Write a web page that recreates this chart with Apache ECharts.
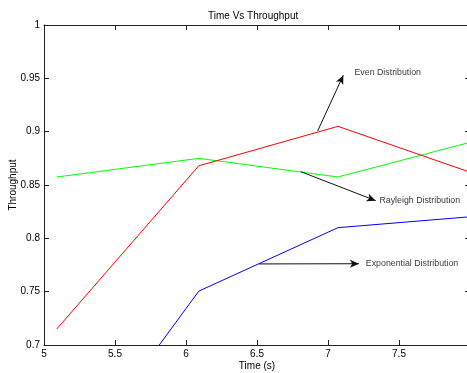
<!DOCTYPE html>
<html>
<head>
<meta charset="utf-8">
<script src="https://cdn.jsdelivr.net/npm/echarts@6/dist/echarts.min.js"></script>
<style>
html,body{margin:0;padding:0;background:#fff;}
#chart{width:467px;height:373px;}
</style>
</head>
<body>
<div id="chart"></div>
<script>
// ---- data ----
const timeValues = [5.09, 6.09, 7.07, 8.0];
const evenValues = [0.715, 0.868, 0.905, 0.862];
const rayleighValues = [0.8575, 0.875, 0.8575, 0.890];
const exponentialValues = [0.569, 0.7505, 0.810, 0.8202];
const xTicks = [5, 5.5, 6, 6.5, 7, 7.5, 8];
const yTicks = [0.7, 0.75, 0.8, 0.85, 0.9, 0.95, 1];
const annotationLabels = ['Even Distribution', 'Rayleigh Distribution', 'Exponential Distribution'];
// annotation arrows (tail -> head) and text anchors, in data units
const arrowTails = [[6.927, 0.9006], [6.808, 0.8625], [6.514, 0.776]];
const arrowHeads = [[7.108, 0.953], [7.336, 0.8353], [7.218, 0.7762]];
const textAnchors = [[7.183, 0.955], [7.359, 0.8353], [7.263, 0.7762]];

const FONT = 'Liberation Sans, Arial, sans-serif';
const AX = '#222';
const pair = (xs, ys) => xs.map((x, i) => [x, ys[i]]);

const chart = echarts.init(document.getElementById('chart'), null, {renderer: 'canvas'});
const xBase = {
  type: 'value', min: xTicks[0], max: xTicks[xTicks.length - 1], interval: 0.5,
  splitLine: {show: false},
  axisLine: {show: true, onZero: false, lineStyle: {color: AX, width: 1}},
  axisTick: {show: true, inside: true, length: 5, lineStyle: {color: AX}},
};
const yBase = {
  type: 'value', min: yTicks[0], max: yTicks[yTicks.length - 1], interval: 0.05,
  splitLine: {show: false},
  axisLine: {show: true, onZero: false, lineStyle: {color: AX, width: 1}},
  axisTick: {show: true, inside: true, length: 5, lineStyle: {color: AX}},
};
chart.setOption({
  animation: false,
  backgroundColor: '#fff',
  title: {
    text: 'Time Vs Throughput', left: 203, top: 6,
    textStyle: {fontFamily: FONT, fontSize: 10, fontWeight: 'normal', color: '#000'}
  },
  grid: {left: 44, top: 25, width: 426, height: 320, containLabel: false, outerBoundsMode: 'none'},
  xAxis: [
    Object.assign({}, xBase, {
      position: 'bottom',
      name: 'Time (s)', nameLocation: 'middle', nameGap: 16, nameMoveOverlap: false,
      nameTextStyle: {fontFamily: FONT, fontSize: 10, color: '#000'},
      axisLabel: {show: true, margin: 4, showMaxLabel: false, fontFamily: FONT, fontSize: 10, color: '#000',
        formatter: v => String(+v.toFixed(2))}
    }),
    Object.assign({}, xBase, {position: 'top', axisLabel: {show: false}})
  ],
  yAxis: [
    Object.assign({}, yBase, {
      position: 'left',
      name: 'Throughput', nameLocation: 'middle', nameGap: 26, nameMoveOverlap: false,
      nameTextStyle: {fontFamily: FONT, fontSize: 10, color: '#000'},
      axisLabel: {show: true, margin: 4, fontFamily: FONT, fontSize: 10, color: '#000',
        formatter: v => String(+v.toFixed(2))}
    }),
    Object.assign({}, yBase, {position: 'right', axisLabel: {show: false}})
  ],
  series: [
    {type: 'line', name: 'Even', data: pair(timeValues, evenValues), symbol: 'none',
      lineStyle: {color: '#ff0000', width: 1}, itemStyle: {color: '#ff0000'}, z: 3},
    {type: 'line', name: 'Rayleigh', data: pair(timeValues, rayleighValues), symbol: 'none',
      lineStyle: {color: '#00ff00', width: 1}, itemStyle: {color: '#00ff00'}, z: 2},
    {type: 'line', name: 'Exponential', data: pair(timeValues, exponentialValues), symbol: 'none',
      lineStyle: {color: '#0000ff', width: 1}, itemStyle: {color: '#0000ff'}, z: 2},
    {type: 'line', name: 'arrows', data: [], z: 5, silent: true,
      markLine: {
        silent: true, animation: false,
        symbol: ['none', 'arrow'], symbolSize: [6, 9],
        label: {show: false},
        lineStyle: {color: '#111', width: 1, type: 'solid'},
        emphasis: {disabled: true},
        data: arrowTails.map((t, i) => [{coord: t}, {coord: arrowHeads[i]}])
      }},
    {type: 'scatter', name: 'labels', silent: true, z: 6,
      symbolSize: 1, itemStyle: {color: 'rgba(255,255,255,0)'},
      data: textAnchors.map((p, i) => ({value: p, name: annotationLabels[i]})),
      label: {show: true, position: 'right', distance: 0, formatter: p => p.name,
        fontFamily: FONT, fontSize: 8.8, color: '#000'}}
  ]
});
</script>
</body>
</html>
